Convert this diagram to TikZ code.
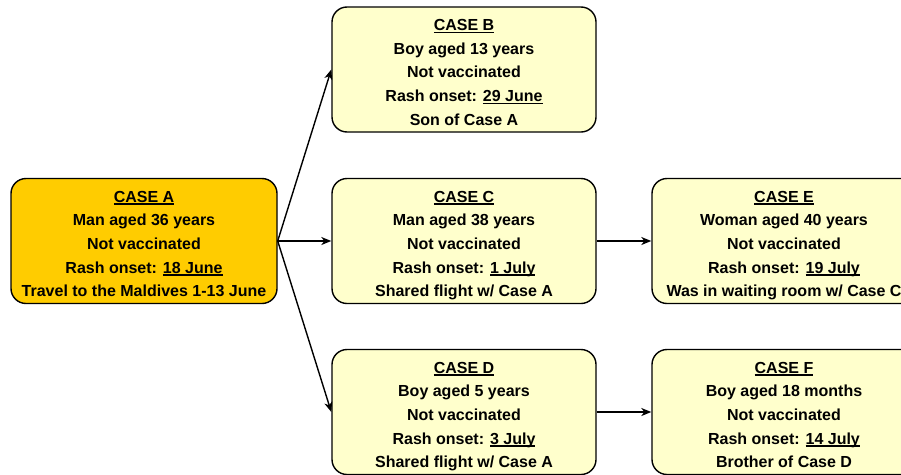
\documentclass[tikz,border=0pt]{standalone}
\usepackage{fontspec}
\setmainfont{Liberation Sans}
\usetikzlibrary{arrows.meta}
\newcommand{\ulin}[1]{\setbox0\hbox{#1}\rlap{\rule[-2.6pt]{\wd0}{1.3pt}}\box0}
\newcommand{\topstrut}{\rule{0pt}{20.8pt}}
\newcommand{\botstrut}{\rule[-4pt]{0pt}{4pt}}
\begin{document}
\begin{tikzpicture}[x=1pt,y=-1pt,
  casebox/.style={draw=black, line width=1.4pt, rounded corners=15pt,
    minimum width=264pt, minimum height=125pt, align=center, inner sep=0pt,
    font=\fontsize{16}{23.7}\selectfont\bfseries, fill=caseyellow},
  link/.style={line width=1.4pt, -{Stealth[length=10pt,width=8pt,inset=3pt]}}]
\definecolor{caseyellow}{HTML}{FFFFCC}
\definecolor{caseorange}{HTML}{FFCC00}
\useasboundingbox (0,0) rectangle (901,474);
\begin{scope}
\clip (0,0) rectangle (901,474);
\node[casebox, fill=caseorange, minimum width=266pt] (A) at (144,241)
  {\topstrut\ulin{CASE A}\\Man aged 36 years\\Not vaccinated\\Rash onset: \ulin{18 June}\\Travel to the Maldives 1-13 June\botstrut};
\node[casebox] (B) at (464,69.5)
  {\topstrut\ulin{CASE B}\\Boy aged 13 years\\Not vaccinated\\Rash onset: \ulin{29 June}\\Son of Case A\botstrut};
\node[casebox] (C) at (464,241)
  {\topstrut\ulin{CASE C}\\Man aged 38 years\\Not vaccinated\\Rash onset: \ulin{1 July}\\Shared flight w/ Case A\botstrut};
\node[casebox] (D) at (464,412)
  {\topstrut\ulin{CASE D}\\Boy aged 5 years\\Not vaccinated\\Rash onset: \ulin{3 July}\\Shared flight w/ Case A\botstrut};
\node[casebox] (E) at (784,241)
  {\topstrut\ulin{CASE E}\\Woman aged 40 years\\Not vaccinated\\Rash onset: \ulin{19 July}\\Was in waiting room w/ Case C\botstrut};
\node[casebox] (F) at (784,412)
  {\topstrut\ulin{CASE F}\\Boy aged 18 months\\Not vaccinated\\Rash onset: \ulin{14 July}\\Brother of Case D\botstrut};
\draw[link] (A.east) -- (B.west);
\draw[link] (A.east) -- (C.west);
\draw[link] (A.east) -- (D.west);
\draw[link] (C.east) -- (E.west);
\draw[link] (D.east) -- (F.west);
\end{scope}
\end{tikzpicture}
\end{document}
